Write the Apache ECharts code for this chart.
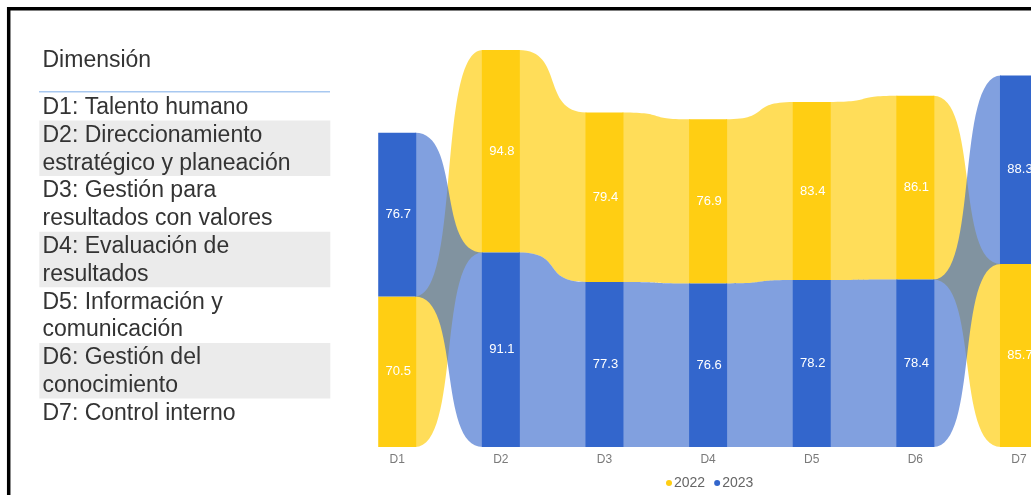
<!DOCTYPE html>
<html>
<head>
<meta charset="utf-8">
<script src="https://cdn.jsdelivr.net/npm/echarts@6/dist/echarts.min.js"></script>
<style>
  html, body { margin: 0; padding: 0; overflow: hidden; background: #ffffff; }
  #chart { width: 1100px; height: 495px; }
</style>
</head>
<body>
<div id="chart"></div>
<script>
// ---- data ----
const categories = ['D1', 'D2', 'D3', 'D4', 'D5', 'D6', 'D7'];
const years = ['2022', '2023'];
const values2022 = [70.5, 94.8, 79.4, 76.9, 83.4, 86.1, 85.7];
const values2023 = [76.7, 91.1, 77.3, 76.6, 78.2, 78.4, 88.3];
const tableHeader = 'Dimensión';
const dimensionNames = [
  'D1: Talento humano',
  'D2: Direccionamiento\nestratégico y planeación',
  'D3: Gestión para\nresultados con valores',
  'D4: Evaluación de\nresultados',
  'D5: Información y\ncomunicación',
  'D6: Gestión del\nconocimiento',
  'D7: Control interno'
];

// ---- styling ----
const barColors = ['#FFCE13', '#3366CC'];
const ribbonOpacity = [0.7, 0.62];
const BAR_W = 38;
const allValues = [values2022, values2023];

// stacked extent of series s at category i (smaller value at the bottom)
function segment(s, i) {
  let lo = 0;
  allValues.forEach((arr, k) => {
    if (k === s) return;
    if (arr[i] < allValues[s][i] || (arr[i] === allValues[s][i] && k < s)) lo += arr[i];
  });
  return [lo, lo + allValues[s][i]];
}

function makeRenderItem(s) {
  return function (params, api) {
    const i = params.dataIndex;
    const n = categories.length;
    const children = [];
    const seg = segment(s, i);
    const cx = api.coord([i, 0])[0];
    const yLo = api.coord([i, seg[0]])[1];
    const yHi = api.coord([i, seg[1]])[1];
    if (i < n - 1) {
      const seg2 = segment(s, i + 1);
      const cx2 = api.coord([i + 1, 0])[0];
      const x0 = cx + BAR_W / 2 - 1;
      const x1 = cx2 - BAR_W / 2 + 1;
      const w = x1 - x0;
      const c = 0.68;
      const yLo2 = api.coord([i + 1, seg2[0]])[1];
      const yHi2 = api.coord([i + 1, seg2[1]])[1];
      const p = 'M' + x0 + ',' + yHi +
        ' C' + (x0 + c * w) + ',' + yHi + ' ' + (x1 - c * w) + ',' + yHi2 + ' ' + x1 + ',' + yHi2 +
        ' L' + x1 + ',' + yLo2 +
        ' C' + (x1 - c * w) + ',' + yLo2 + ' ' + (x0 + c * w) + ',' + yLo + ' ' + x0 + ',' + yLo + ' Z';
      children.push({
        type: 'path',
        shape: { pathData: p },
        style: { fill: barColors[s], opacity: ribbonOpacity[s] }
      });
    }
    children.push({
      type: 'rect',
      shape: { x: cx - BAR_W / 2, y: yHi, width: BAR_W, height: yLo - yHi },
      style: { fill: barColors[s] }
    });
    children.push({
      type: 'text',
      style: {
        text: String(allValues[s][i]),
        x: cx + 1,
        y: (yHi + yLo) / 2,
        align: 'center',
        verticalAlign: 'middle',
        fill: '#ffffff',
        fontSize: 13,
        fontFamily: 'Liberation Sans, Arial, sans-serif'
      }
    });
    return { type: 'group', children: children };
  };
}

// ---- table (graphic elements) ----
const graphics = [];
graphics.push({
  type: 'rect', z: 100,
  shape: { x: 8.7, y: 8.7, width: 3000, height: 3000 },
  style: { fill: 'none', stroke: '#000000', lineWidth: 3.5 }
});
graphics.push({
  type: 'text', z: 10,
  style: {
    text: tableHeader, x: 42.5, y: 60.5, verticalAlign: 'middle',
    fill: '#333333', fontSize: 23, fontFamily: 'Liberation Sans, Arial, sans-serif'
  }
});
graphics.push({
  type: 'line', z: 10,
  shape: { x1: 39, y1: 91.8, x2: 330, y2: 91.8 },
  style: { stroke: '#A8C8F0', lineWidth: 1.5 }
});
const LINE_H = 27.8;
let rowTop = 92.7;
dimensionNames.forEach((name, idx) => {
  const lines = name.split('\n').length;
  const h = lines * LINE_H;
  if (idx % 2 === 1) {
    graphics.push({
      type: 'rect', z: 5,
      shape: { x: 39.3, y: rowTop, width: 291, height: h },
      style: { fill: '#EBEBEB' }
    });
  }
  graphics.push({
    type: 'text', z: 10,
    style: {
      text: name, x: 42.5, y: rowTop + 1, verticalAlign: 'top',
      lineHeight: LINE_H, fill: '#333333', fontSize: 23,
      fontFamily: 'Liberation Sans, Arial, sans-serif'
    }
  });
  rowTop += h;
});

const chart = echarts.init(document.getElementById('chart'), null, { renderer: 'canvas' });
chart.setOption({
  animation: false,
  backgroundColor: '#ffffff',
  color: barColors,
  grid: { left: 345.4, top: 20, width: 725.4, height: 427, containLabel: false },
  xAxis: {
    type: 'category',
    data: categories,
    boundaryGap: true,
    axisLine: { show: false },
    axisTick: { show: false },
    splitLine: { show: false },
    axisLabel: { color: '#7a7a7a', fontSize: 12, margin: 7, fontFamily: 'Liberation Sans, Arial, sans-serif' }
  },
  yAxis: { type: 'value', min: 0, max: 200, show: false, splitLine: { show: false } },
  legend: {
    data: years,
    left: 661,
    top: 471,
    icon: 'circle',
    itemWidth: 6,
    itemHeight: 6,
    itemGap: 9,
    textStyle: { color: '#666666', fontSize: 14, fontFamily: 'Liberation Sans, Arial, sans-serif', padding: [0, 0, 0, -3] }
  },
  series: years.map((y, s) => ({
    name: y,
    type: 'custom',
    renderItem: makeRenderItem(s),
    itemStyle: { color: barColors[s] },
    encode: { x: 0, y: 1 },
    data: allValues[s].map((v, i) => [i, v]),
    z: 2 + s
  })),
  graphic: graphics
});
</script>
</body>
</html>
